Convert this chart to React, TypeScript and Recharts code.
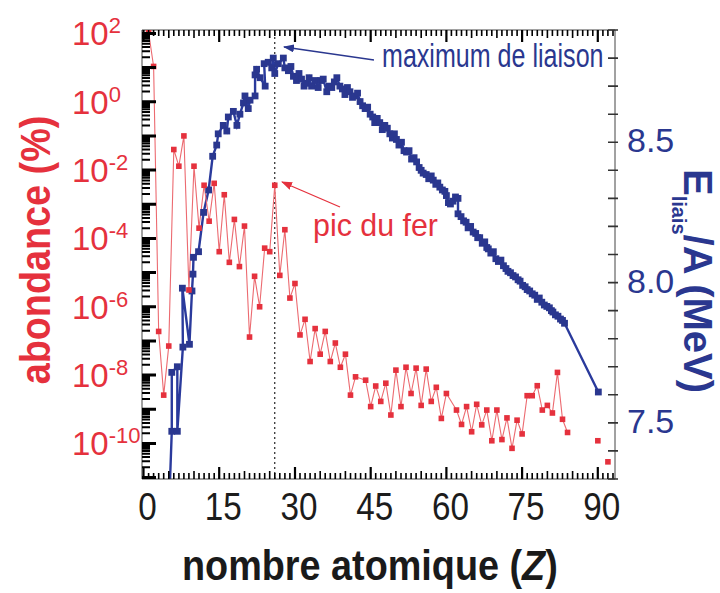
import React from "react"
import { ComposedChart, Line, XAxis, YAxis, ReferenceLine } from "recharts"

const RED = "#e5313d"
const RED_LINE = "#ec6a70"
const BLUE = "#2a378f"
const BLUE_LINE = "#2a3a9c"
const FONT = "'Liberation Sans', Arial, Helvetica, sans-serif"

// abondance (%) des éléments stables, Z = 1..84 (pas de Tc ni de Pm)
const abundZ = [
  1, 2, 3, 4, 5, 6, 7, 8, 9, 10, 11, 12, 13, 14, 15, 16, 17, 18, 19, 20,
  21, 22, 23, 24, 25, 26, 27, 28, 29, 30, 31, 32, 33, 34, 35, 36, 37, 38, 39, 40,
  41, 42, 44, 45, 46, 47, 48, 49, 50, 51, 52, 53, 54, 55, 56, 57, 58, 59, 60,
  62, 63, 64, 65, 66, 67, 68, 69, 70, 71, 72, 73, 74, 75, 76, 77, 78, 79, 80,
  81, 82, 83, 84,
]
const abundPct = [
  110, 10.8, 1.9e-7, 2.6e-9, 7.1e-8, 0.04, 0.013, 0.1, 3.1e-6, 0.013,
  2.0e-4, 3.6e-3, 3.2e-4, 4.1e-3, 4.1e-5, 1.9e-3, 2.0e-5, 3.6e-4, 1.5e-5, 2.3e-4,
  1.3e-7, 7.8e-6, 1.0e-6, 5.2e-5, 4.1e-5, 3.6e-3, 8.3e-6, 1.8e-4, 1.8e-6, 4.8e-6,
  1.5e-7, 4.3e-7, 2.5e-8, 2.3e-7, 4.1e-8, 1.9e-7, 2.5e-8, 8.7e-8, 1.7e-8, 4.1e-8,
  2.6e-9, 8.9e-9, 7.1e-9, 1.2e-9, 4.8e-9, 1.7e-9, 5.8e-9, 6.8e-10, 1.4e-8, 1.2e-9,
  1.7e-8, 2.9e-9, 1.6e-8, 1.3e-9, 1.5e-8, 1.7e-9, 4.4e-9, 5.4e-10, 2.9e-9,
  9.5e-10, 3.6e-10, 1.2e-9, 2.2e-10, 1.4e-9, 3.5e-10, 9.5e-10, 1.2e-10, 9.5e-10,
  1.3e-10, 5.6e-10, 7.2e-11, 4.8e-10, 1.9e-10, 2.5e-9, 2.5e-9, 4.9e-9, 9.5e-10,
  1.3e-9, 7.8e-10, 1.2e-8, 5.1e-10, 2.1e-10,
]

// Th et U, points isolés
const actinideZ = [90, 92]
const actinidePct = [1.2e-10, 2.9e-11]

// énergie de liaison par nucléon (MeV), isotopes stables
const bindZ = [
  4.8, 5.6, 5.6, 6.7, 6.7, 7.8, 7.7, 9.1, 9.6, 9.8, 9.9, 10.9, 11.9, 12.9, 13.7,
  14.5, 14.8, 15.8, 16.5, 16.8, 17.8, 18.5, 19.1, 19.8, 20.1, 20.75, 21.1, 22.1,
  22.1, 22.4, 23.1, 24.1, 23.9, 24.7, 25.4, 25.7, 26.0, 26.7, 27.7, 28.0, 28.7,
  29.2, 29.7, 30.3, 30.8, 31.3, 31.8, 32.3, 32.8, 33.3, 34.0, 34.6, 35.1, 35.6,
  36.3, 36.8, 37.3, 37.8, 38.3, 38.9, 39.4, 39.9, 40.4, 40.9, 41.4, 41.9, 42.4,
  42.9, 43.4, 43.9, 44.4, 44.9, 45.4, 45.8, 46.3, 46.8, 47.3, 47.8, 48.3, 48.8,
  49.3, 49.7, 50.1, 50.6, 51.1, 51.6, 52.1, 52.6, 53.1, 53.6, 54.1, 54.6, 55.0,
  55.4, 56.0, 56.5, 57.0, 57.4, 57.9, 58.3, 58.7, 59.2, 59.7, 60.0, 60.4, 60.8,
  61.3, 61.8, 62.3, 62.3, 62.9, 63.4, 63.9, 64.3, 64.8, 65.3, 65.8, 66.2, 66.6,
  67.1, 67.6, 68.0, 68.3, 68.8, 69.3, 69.8, 70.3, 70.8, 71.3, 71.8, 72.2, 72.7,
  73.2, 73.7, 74.2, 74.6, 75.1, 75.6, 76.0, 76.5, 77.0, 77.5, 78.0, 78.4, 78.9,
  79.4, 79.9, 80.4, 80.8, 81.1, 81.6, 82.1, 82.6, 83.0, 83.4, 90.1,
]
const bindE = [
  7.07, 7.47, 7.68, 7.7, 7.47, 7.77, 7.98, 7.78, 7.97, 8.03, 8.09, 8.11, 8.25, 8.33, 8.45,
  8.49, 8.53, 8.56, 8.54, 8.59, 8.61, 8.56, 8.6, 8.64, 8.665, 8.62, 8.65, 8.665,
  8.74, 8.76, 8.73, 8.7, 8.78, 8.785, 8.765, 8.8, 8.745, 8.78, 8.8, 8.765, 8.755,
  8.77, 8.735, 8.72, 8.745, 8.725, 8.7, 8.71, 8.73, 8.7, 8.72, 8.695, 8.72, 8.725,
  8.68, 8.7, 8.695, 8.715, 8.73, 8.7, 8.69, 8.67, 8.695, 8.68, 8.66, 8.665, 8.675,
  8.645, 8.63, 8.62, 8.625, 8.6, 8.59, 8.57, 8.585, 8.57, 8.545, 8.56, 8.55, 8.53,
  8.515, 8.53, 8.51, 8.49, 8.5, 8.47, 8.465, 8.47, 8.44, 8.445, 8.43, 8.41, 8.4,
  8.39, 8.385, 8.37, 8.38, 8.365, 8.35, 8.355, 8.34, 8.33, 8.325, 8.31, 8.285, 8.28,
  8.29, 8.305, 8.3, 8.245, 8.235, 8.22, 8.215, 8.195, 8.2, 8.18, 8.175, 8.16, 8.16,
  8.14, 8.145, 8.125, 8.12, 8.105, 8.11, 8.085, 8.075, 8.08, 8.06, 8.05, 8.04, 8.035,
  8.025, 8.02, 8.01, 8.005, 7.99, 7.985, 7.975, 7.97, 7.96, 7.955, 7.94, 7.945, 7.93,
  7.92, 7.915, 7.91, 7.9, 7.895, 7.885, 7.88, 7.87, 7.865, 7.855, 7.61,
]

const zLabels = [0, 15, 30, 45, 60, 75, 90]
const eTicks = [7.3, 7.4, 7.5, 7.6, 7.7, 7.8, 7.9, 8.0, 8.1, 8.2, 8.3, 8.4, 8.5, 8.6, 8.7, 8.8, 8.9]
const eLabels = [7.5, 8.0, 8.5]
const abundLabelExp = [2, 0, -2, -4, -6, -8, -10]

const abundData = abundZ.map((z, i) => ({ z, a: abundPct[i] }))
const actinideData = actinideZ.map((z, i) => ({ z, a: actinidePct[i] }))
const bindData = bindZ.map((z, i) => ({ z, e: bindE[i] }))

const Z_DOMAIN: [number, number] = [-0.3, 93.4]
const A_DOMAIN: [number, number] = [10 ** -11.04, 10 ** 2.1]
const E_DOMAIN: [number, number] = [7.3, 8.9]

// plot box in px: margins + axis bands of the chart below
const BOX = { left: 142, top: 30, right: 615, bottom: 479 }

const zTicks: number[] = []
for (let z = 0; z <= 93; z++) zTicks.push(z)

const logTicks: number[] = []
for (let k = -11; k <= 2; k++) {
  for (let m = 1; m <= 9; m++) {
    const v = m * 10 ** k
    if (v >= A_DOMAIN[0] && v <= A_DOMAIN[1]) logTicks.push(v)
  }
}
const isDecade = (v: number) => Math.abs(Math.log10(v) - Math.round(Math.log10(v))) < 1e-6

// same mapping as the chart axes, used only for the frame tick marks
const zPx = (z: number) =>
  BOX.left + ((z - Z_DOMAIN[0]) / (Z_DOMAIN[1] - Z_DOMAIN[0])) * (BOX.right - BOX.left)
const aPx = (a: number) =>
  BOX.top +
  ((Math.log10(A_DOMAIN[1]) - Math.log10(a)) / (Math.log10(A_DOMAIN[1]) - Math.log10(A_DOMAIN[0]))) *
    (BOX.bottom - BOX.top)
const ePx = (e: number) =>
  BOX.top + ((E_DOMAIN[1] - e) / (E_DOMAIN[1] - E_DOMAIN[0])) * (BOX.bottom - BOX.top)

// tick marks as one path per edge
function tickPaths() {
  let bottom = ""
  let top = ""
  let bottomMajor = ""
  zTicks.forEach((z) => {
    const x = zPx(z).toFixed(1)
    if (z % 15 === 0) {
      bottomMajor += `M${x},${BOX.bottom}V${BOX.bottom - 12}M${x},${BOX.top}V${BOX.top + 12}`
    } else {
      const len = z % 5 === 0 ? 8 : 6
      bottom += `M${x},${BOX.bottom}V${BOX.bottom - len}`
      top += `M${x},${BOX.top}V${BOX.top + len}`
    }
  })
  let left = ""
  let leftMajor = ""
  logTicks.forEach((a) => {
    const y = aPx(a).toFixed(1)
    if (isDecade(a)) leftMajor += `M${BOX.left},${y}H${BOX.left + 14}`
    else left += `M${BOX.left},${y}H${BOX.left + 8}`
  })
  let right = ""
  eTicks.forEach((e) => {
    const y = ePx(e).toFixed(1)
    right += `M${BOX.right - 7},${y}H${BOX.right + 3}`
  })
  return { minor: bottom + top, major: bottomMajor, left, leftMajor, right }
}
const TP = tickPaths()

function AbundTick(props: any) {
  const x = Number(props.x)
  const y = Number(props.y)
  const n = Math.round(Math.log10(props.payload.value))
  if (!(isDecade(props.payload.value) && abundLabelExp.includes(n))) return <g />
  return (
    <text x={x - 70} y={y} dy={12} fontSize={33} fill={RED} fontFamily={FONT} stroke="none">
      10
      <tspan dy={-12} fontSize={22}>
        {n}
      </tspan>
    </text>
  )
}

function EnergyTick(props: any) {
  const x = Number(props.x)
  const y = Number(props.y)
  const v = props.payload.value
  const lab = eLabels.some((l) => Math.abs(l - v) < 1e-6)
  if (!lab) return <g />
  return (
    <text x={x + 12} y={y} dy={10} fontSize={34} fill={BLUE} fontFamily={FONT} stroke="none">
      {v.toFixed(1)}
    </text>
  )
}

function ZTick(props: any) {
  const x = Number(props.x)
  const y = Number(props.y)
  const v = props.payload.value
  if (!zLabels.includes(v)) return <g />
  const s = String(v)
  return (
    <text
      x={x + 4}
      y={y}
      dy={41}
      textAnchor="middle"
      fontSize={38}
      fill="#1c1c1c"
      stroke="none"
      fontFamily={FONT}
      textLength={18.5 * s.length}
      lengthAdjust="spacingAndGlyphs"
    >
      {s}
    </text>
  )
}

function redDot(props: any) {
  const { cx, cy, index } = props
  if (cx == null || cy == null) return <g key={`r${index}`} />
  return <rect key={`r${index}`} x={cx - 2.8} y={cy - 2.8} width={5.6} height={5.6} fill={RED} />
}

function actDot(props: any) {
  const { cx, cy, index } = props
  if (cx == null || cy == null) return <g key={`t${index}`} />
  return <rect key={`t${index}`} x={cx - 2.8} y={cy - 2.8} width={5.6} height={5.6} fill={RED} />
}

function blueDot(props: any) {
  const { cx, cy, index } = props
  if (cx == null || cy == null) return <g key={`b${index}`} />
  return <rect key={`b${index}`} x={cx - 3.4} y={cy - 3.4} width={6.8} height={6.8} fill={BLUE} />
}

export default function App() {
  return (
    <div style={{ position: "absolute", left: 0, top: 0, width: 720, height: 593, background: "#fff" }}>
      <ComposedChart width={720} height={593} margin={{ top: 20, right: 45, bottom: 64, left: 72 }}>
        <XAxis
          xAxisId="bottom"
          type="number"
          dataKey="z"
          domain={Z_DOMAIN}
          allowDataOverflow
          ticks={zTicks}
          interval={0}
          height={50}
          tickSize={0}
          tickMargin={0}
          tickLine={false}
          tick={<ZTick />}
          axisLine={{ stroke: "#444" }}
        />
        <XAxis
          xAxisId="top"
          orientation="top"
          type="number"
          dataKey="z"
          domain={Z_DOMAIN}
          allowDataOverflow
          height={10}
          tickLine={false}
          tick={false}
          axisLine={{ stroke: "#444" }}
        />
        <YAxis
          yAxisId="ab"
          scale="log"
          domain={A_DOMAIN}
          allowDataOverflow
          ticks={logTicks}
          interval={0}
          width={70}
          tickSize={0}
          tickMargin={0}
          tickLine={false}
          tick={<AbundTick />}
          axisLine={{ stroke: "#444" }}
        />
        <YAxis
          yAxisId="be"
          orientation="right"
          domain={E_DOMAIN}
          allowDataOverflow
          ticks={eTicks}
          interval={0}
          width={60}
          tickSize={0}
          tickMargin={0}
          tickLine={false}
          tick={<EnergyTick />}
          axisLine={{ stroke: "#444" }}
        />
        <ReferenceLine xAxisId="bottom" yAxisId="ab" x={26} stroke="#111" strokeWidth={1.1} strokeDasharray="2 3" />
        <Line
          xAxisId="bottom"
          yAxisId="be"
          data={bindData}
          dataKey="e"
          type="linear"
          stroke={BLUE_LINE}
          strokeWidth={2.4}
          dot={blueDot}
          isAnimationActive={false}
        />
        <Line
          xAxisId="bottom"
          yAxisId="ab"
          data={abundData}
          dataKey="a"
          type="linear"
          stroke={RED_LINE}
          strokeWidth={1.1}
          dot={redDot}
          isAnimationActive={false}
        />
        <Line
          xAxisId="bottom"
          yAxisId="ab"
          data={actinideData}
          dataKey="a"
          type="linear"
          stroke="none"
          dot={actDot}
          isAnimationActive={false}
        />
      </ComposedChart>
      <svg
        width={720}
        height={593}
        style={{ position: "absolute", left: 0, top: 0, pointerEvents: "none" }}
        fontFamily={FONT}
      >
        <defs>
          <marker id="arrBlue" markerWidth={11} markerHeight={8} refX={10} refY={4} orient="auto" markerUnits="userSpaceOnUse">
            <polygon points="0 0, 11 4, 0 8" fill={BLUE} />
          </marker>
          <marker id="arrRed" markerWidth={11} markerHeight={8} refX={10} refY={4} orient="auto" markerUnits="userSpaceOnUse">
            <polygon points="0 0, 11 4, 0 8" fill={RED} />
          </marker>
        </defs>
        <path d={TP.minor} stroke="#000" strokeWidth={1.6} fill="none" />
        <path d={TP.major} stroke="#000" strokeWidth={2.2} fill="none" />
        <path d={TP.left} stroke="#000" strokeWidth={2} fill="none" />
        <path d={TP.leftMajor} stroke="#000" strokeWidth={3} fill="none" />
        <path d={TP.right} stroke="#333" strokeWidth={1.6} fill="none" />
        <g transform="translate(182,580) scale(0.9,1)">
          <text x={0} y={0} fontSize={42} fontWeight="bold" fill="#1a1a1a">
            nombre atomique (<tspan fontStyle="italic">Z</tspan>)
          </text>
        </g>
        <g transform="translate(50,250) rotate(-90) scale(0.9,1)">
          <text x={0} y={0} textAnchor="middle" fontSize={42} fontWeight="bold" fill={RED}>
            abondance (%)
          </text>
        </g>
        <g transform="translate(684,281) rotate(90)">
          <text x={0} y={0} textAnchor="middle" fontSize={40} fontWeight="bold" fill={BLUE}>
            E
            <tspan fontSize={20} dy={12}>
              liais
            </tspan>
            <tspan dy={-12}>/A (MeV)</tspan>
          </text>
        </g>
        <g transform="translate(382,67) scale(0.76,1)">
          <text x={0} y={0} fontSize={33} fill={BLUE}>
            maximum de liaison
          </text>
        </g>
        <line x1={374} y1={60} x2={284} y2={47} stroke={BLUE} strokeWidth={1.3} markerEnd="url(#arrBlue)" />
        <g transform="translate(313,236) scale(0.98,1)">
          <text x={0} y={0} fontSize={31} fill={RED}>
            pic du fer
          </text>
        </g>
        <line x1={340} y1={207} x2={282} y2={182} stroke={RED} strokeWidth={1.3} markerEnd="url(#arrRed)" />
      </svg>
    </div>
  )
}
